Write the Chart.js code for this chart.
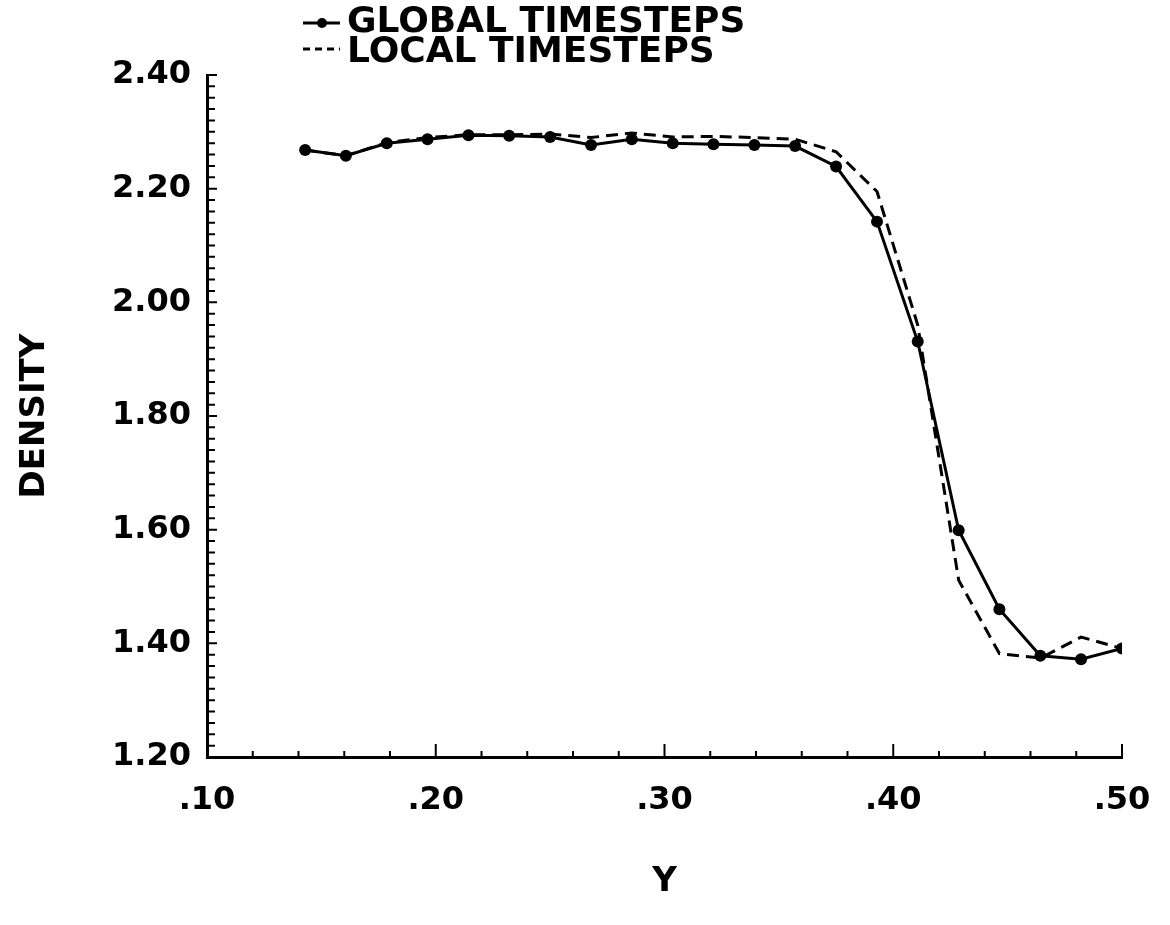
<!DOCTYPE html>
<html>
<head>
<meta charset="utf-8">
<script src="https://cdn.jsdelivr.net/npm/chart.js@4.4.1/dist/chart.umd.min.js"></script>
<style>
  body { margin: 0; background: #fff; }
</style>
</head>
<body>
<canvas id="chart" width="1170" height="925"></canvas>
<script>
// cell centres along Y
const yPos = [0.1429, 0.1607, 0.1786, 0.1964, 0.2143, 0.2321, 0.2500, 0.2679, 0.2857, 0.3036, 0.3214,
              0.3393, 0.3571, 0.3750, 0.3929, 0.4107, 0.4286, 0.4464, 0.4643, 0.4821, 0.5000];
const globalDensity = [2.268, 2.258, 2.280, 2.287, 2.294, 2.293, 2.291, 2.277, 2.287, 2.280, 2.278,
                       2.277, 2.275, 2.239, 2.142, 1.931, 1.599, 1.460, 1.378, 1.372, 1.391];
const localDensity = [2.268, 2.258, 2.281, 2.290, 2.295, 2.295, 2.296, 2.290, 2.298, 2.291, 2.292,
                      2.290, 2.287, 2.265, 2.195, 1.960, 1.511, 1.382, 1.374, 1.411, 1.391];
const legendLabels = ['GLOBAL TIMESTEPS', 'LOCAL TIMESTEPS'];

const FONT = 'DejaVu Sans';

// inward tick marks + the legend up top
const extras = {
  id: 'extras',
  afterDraw(chart) {
    const {ctx, chartArea, scales: {x, y}} = chart;
    ctx.save();
    ctx.strokeStyle = '#000';
    ctx.lineWidth = 2;
    ctx.beginPath();
    for (let i = 0; i <= 60; i++) {
      const py = y.getPixelForValue(1.2 + i * 0.02);
      ctx.moveTo(chartArea.left, py);
      ctx.lineTo(chartArea.left + (i % 10 === 0 ? 10 : 8), py);
    }
    for (let i = 0; i <= 20; i++) {
      const px = x.getPixelForValue(0.1 + i * 0.02);
      ctx.moveTo(px, chartArea.bottom);
      ctx.lineTo(px, chartArea.bottom - (i % 5 === 0 ? 13 : 6));
    }
    ctx.stroke();

    // legend
    const lx = chartArea.left + 96;
    const rows = [chartArea.top - 52, chartArea.top - 22];
    ctx.lineWidth = 3;
    ctx.beginPath();
    ctx.moveTo(lx, rows[0]);
    ctx.lineTo(lx + 37, rows[0]);
    ctx.stroke();
    ctx.beginPath();
    ctx.arc(lx + 19, rows[0], 5, 0, Math.PI * 2);
    ctx.fillStyle = '#000';
    ctx.fill();
    ctx.setLineDash([7, 5]);
    ctx.beginPath();
    ctx.moveTo(lx, rows[1] - 4);
    ctx.lineTo(lx + 37, rows[1] - 4);
    ctx.stroke();
    ctx.setLineDash([]);
    ctx.font = 'bold 36px "' + FONT + '"';
    ctx.textBaseline = 'middle';
    ctx.textAlign = 'left';
    ctx.fillText(legendLabels[0], lx + 44, rows[0]);
    ctx.fillText(legendLabels[1], lx + 44, rows[1]);
    ctx.restore();
  }
};

new Chart(document.getElementById('chart'), {
  type: 'line',
  data: {
    datasets: [
      {
        label: legendLabels[0],
        data: yPos.map((v, i) => ({x: v, y: globalDensity[i]})),
        borderColor: '#000',
        backgroundColor: '#000',
        borderWidth: 3,
        pointRadius: 6,
        pointBackgroundColor: '#000',
        pointBorderWidth: 0,
        tension: 0
      },
      {
        label: legendLabels[1],
        data: yPos.map((v, i) => ({x: v, y: localDensity[i]})),
        borderColor: '#000',
        borderWidth: 3,
        borderDash: [12, 7],
        pointRadius: 0,
        tension: 0
      }
    ]
  },
  options: {
    responsive: false,
    animation: false,
    devicePixelRatio: 1,
    layout: { padding: { top: 75, right: 48, left: 0, bottom: 0 } },
    plugins: {
      legend: { display: false },
      tooltip: { enabled: false }
    },
    scales: {
      x: {
        type: 'linear',
        min: 0.1,
        max: 0.5,
        ticks: {
          stepSize: 0.1,
          padding: 24,
          maxRotation: 0,
          color: '#000',
          font: { family: FONT, size: 32, weight: 'bold' },
          callback: v => v.toFixed(2).replace(/^0/, '')
        },
        grid: { display: false, drawTicks: false },
        border: { display: true, color: '#000', width: 3 },
        title: {
          display: true,
          text: 'Y',
          color: '#000',
          font: { family: FONT, size: 34, weight: 'bold' },
          padding: { top: 0, bottom: 22 }
        },
        afterFit: s => { s.height = 168; s.paddingRight = 0; s.paddingLeft = 0; }
      },
      y: {
        min: 1.2,
        max: 2.4,
        ticks: {
          stepSize: 0.2,
          padding: 16,
          color: '#000',
          font: { family: FONT, size: 32, weight: 'bold' },
          callback: v => v.toFixed(2)
        },
        grid: { display: false, drawTicks: false },
        border: { display: true, color: '#000', width: 3 },
        title: {
          display: true,
          text: 'DENSITY',
          color: '#000',
          font: { family: FONT, size: 34, weight: 'bold' },
          padding: { top: 15, bottom: 0 }
        },
        afterFit: s => { s.width = 207; }
      }
    }
  },
  plugins: [extras]
});
</script>
</body>
</html>
